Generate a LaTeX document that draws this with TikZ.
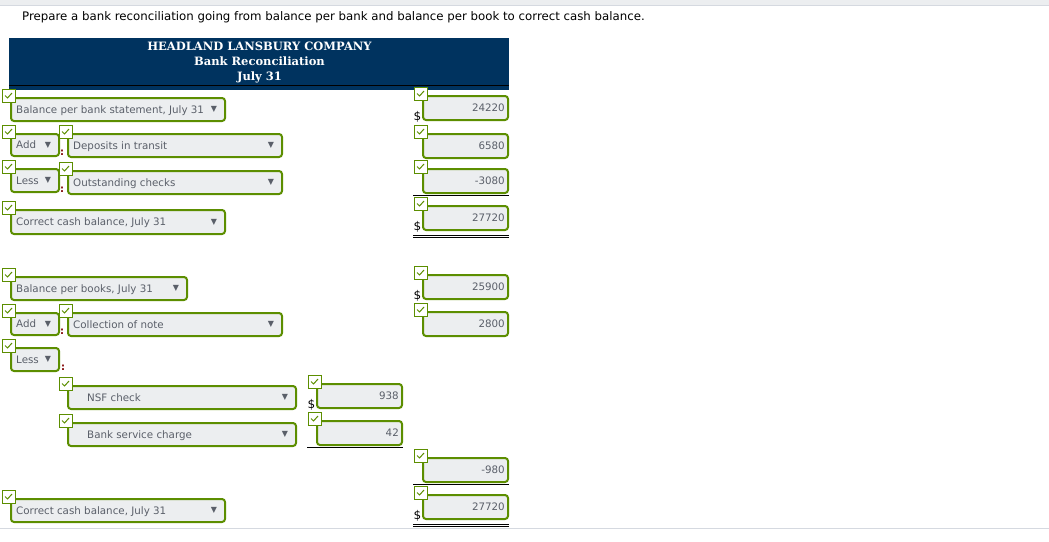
\documentclass[tikz,border=0pt]{standalone}
\usepackage{fontspec}
\setmainfont{DejaVu Sans}
\newfontfamily\headfont{DejaVu Serif}
\definecolor{navy}{HTML}{00335F}
\definecolor{okgreen}{HTML}{5C8E00}
\definecolor{boxgrey}{HTML}{ECEEF0}
\definecolor{inktext}{HTML}{5A5F69}
\definecolor{barline}{HTML}{D5D9E0}
\tikzset{
  fieldbox/.style={draw=okgreen,line width=2pt,fill=boxgrey,rounded corners=3pt,anchor=north west,inner sep=0pt},
  fieldtext/.style={text=inktext,font=\fontsize{10.3}{12}\selectfont,inner sep=0pt,text height=7.5pt,text depth=2pt},
  tickbox/.style={draw=okgreen,line width=1pt,fill=white,minimum size=13pt,inner sep=0pt},
  tickmark/.style={draw=okgreen,line width=1pt},
  dropmark/.style={text=inktext,font=\fontsize{8}{9}\selectfont,inner sep=0pt},
  sumrule/.style={draw=black,line width=.9pt},
  dollar/.style={font=\fontsize{12}{13}\selectfont,inner sep=0pt},
  colonmark/.style={text=red!50!black,font=\fontsize{10}{11}\selectfont\bfseries,inner sep=0pt},
  headtext/.style={anchor=base,inner sep=0pt,text=white,font=\headfont\bfseries\fontsize{11.5}{14}\selectfont}
}
\begin{document}
\begin{tikzpicture}[x=1pt,y=-1pt]
\useasboundingbox (0,0) rectangle (1049,541);
\fill[boxgrey] (0,0) rectangle (1049,4.5);
\draw[barline] (0,5) -- (1049,5);
\draw[barline] (0,528.5) -- (1049,528.5);
\node[anchor=base west,inner sep=0pt,font=\fontsize{11.77}{14}\selectfont] (prompt) at (22,20) {Prepare a bank reconciliation going from balance per bank and balance per book to correct cash balance.};
% header
\fill[navy] (9,38) rectangle (508.5,90);
\draw[black] (9,85.5) -- (508.5,85.5);
\node[headtext] (company) at (259.5,50) {HEADLAND LANSBURY COMPANY};
\node[headtext] (title) at (259.5,65) {Bank Reconciliation};
\node[headtext] (date) at (259.5,80) {July 31};
% dropdowns
\foreach \nm/\x/\y/\w/\h/\dx/\txt in {
  bank/10/97/214/23/6/{Balance per bank statement, July 31},
  addone/10/133/48/22/6/Add,
  deposits/67/133/214/23/6/Deposits in transit,
  lessone/10/168/48/23/6/Less,
  checks/67/170/214/23/6/Outstanding checks,
  correctone/10/209/214/24/6/{Correct cash balance, July 31},
  books/10/276/176/23/6/{Balance per books, July 31},
  addtwo/10/312/48/22/6/Add,
  note/67/312/214/23/6/Collection of note,
  lesstwo/10/347/48/23/6/Less,
  nsf/67/385/228/23/20/NSF check,
  service/67/422/228/23/20/Bank service charge,
  correcttwo/10/498/214/23/6/{Correct cash balance, July 31}}{
  \node[fieldbox,minimum width=\w pt,minimum height=\h pt] (\nm) at (\x,\y) {};
  \node[fieldtext,anchor=west] (\nm text) at ([xshift=\dx pt,yshift=-1pt]\nm.west) {\txt};
  \node[dropmark] (\nm drop) at ([xshift=-12pt]\nm.east) {▼};
  \node[tickbox] (\nm tick) at ([xshift=-1.5pt,yshift=1.5pt]\nm.north west) {};
  \draw[tickmark] ([xshift=-3.5pt]\nm tick.center) -- ++(2.5,2.5) -- ++(4.5,-5);
}
% amounts
\foreach \nm/\x/\y/\txt in {
  a/422/95/24220,b/422/133/6580,c/422/168/-3080,d/422/205/27720,
  e/422/274/25900,f/422/311/2800,g/316/383/938,h/316/420/42,
  i/422/457/-980,j/422/494/27720}{
  \node[fieldbox,minimum width=85pt,minimum height=24pt] (\nm) at (\x,\y) {};
  \node[fieldtext,anchor=east] (\nm text) at ([xshift=-4pt,yshift=-1pt]\nm.east) {\txt};
  \node[tickbox] (\nm tick) at ([xshift=-1.5pt,yshift=1.5pt]\nm.north west) {};
  \draw[tickmark] ([xshift=-3.5pt]\nm tick.center) -- ++(2.5,2.5) -- ++(4.5,-5);
}
% dollar signs
\foreach \nm in {a,d,e,g,j}
  \node[dollar,anchor=east] (\nm dollar) at ([xshift=-.5pt,yshift=-9pt]\nm.west) {\$};
% colons
\foreach \nm in {deposits,checks,note}
  \node[colonmark] (\nm colon) at ([xshift=-5pt,yshift=-7pt]\nm.west) {:};
\node[colonmark] (less colon) at ([xshift=3pt,yshift=-8.5pt]lesstwo.east) {:};
% rules
\foreach \nm in {c,h,i}
  \draw[sumrule] ([xshift=-9pt,yshift=-1.5pt]\nm.south west) -- ([yshift=-1.5pt]\nm.south east);
\foreach \nm in {d,j}{
  \draw[sumrule] ([xshift=-9pt,yshift=-4pt]\nm.south west) -- ([yshift=-4pt]\nm.south east);
  \draw[sumrule] ([xshift=-9pt,yshift=-6pt]\nm.south west) -- ([yshift=-6pt]\nm.south east);
}
\end{tikzpicture}
\end{document}
